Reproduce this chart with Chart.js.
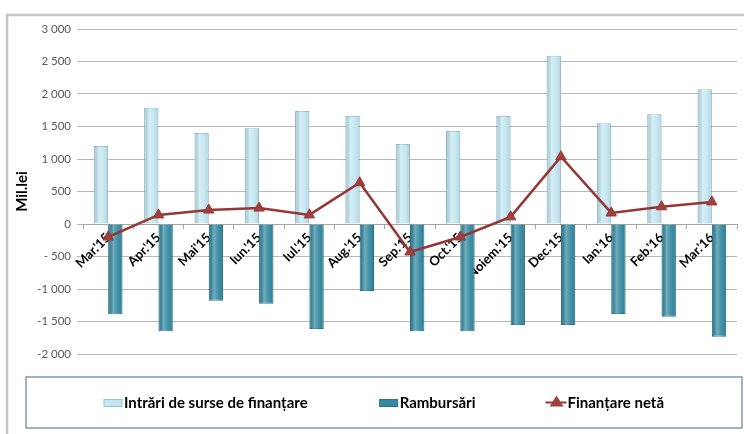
<!DOCTYPE html>
<html>
<head>
<meta charset="utf-8">
<script src="https://cdn.jsdelivr.net/npm/chart.js@4.4.1/dist/chart.umd.min.js"></script>
<style>
    html, body { margin: 0; padding: 0; background: #ffffff; }
    #wrap { position: relative; width: 744px; height: 434px; }
</style>
</head>
<body>
<div id="wrap"><canvas id="finChart"></canvas></div>
<script>
// Datele graficului (mil. lei)
const luni = ["Mar.'15", "Apr.'15", "Mai'15", "Iun.'15", "Iul.'15", "Aug.'15", "Sep.'15",
              "Oct.'15", "Noiem.'15", "Dec.'15", "Ian.'16", "Feb.'16", "Mar.'16"];
const intrari = [1200, 1790, 1400, 1475, 1740, 1660, 1230, 1430, 1660, 2590, 1550, 1690, 2075];
const rambursari = [-1390, -1650, -1180, -1225, -1615, -1030, -1650, -1650, -1555, -1555, -1385, -1425, -1735];
const finantareNeta = [-200, 140, 215, 245, 140, 635, -430, -200, 110, 1035, 170, 265, 340];

const axaMin = -2000;
const axaMax = 3000;
const pas = 500;

const FONT = 'Lato, "Liberation Sans", sans-serif';

// Format Excel: "3 000", "- 500", "-1 000"
function formatTick(value) {
    const abs = Math.abs(value);
    const txt = abs >= 1000 ? Math.floor(abs / 1000) + ' ' + String(abs % 1000).padStart(3, '0') : String(abs);
    if (value < 0) return abs < 1000 ? '- ' + txt : '-' + txt;
    return txt;
}

// Rama exterioara si fundal
const ramaPlugin = {
    id: 'rama',
    beforeDraw(chart) {
        const ctx = chart.ctx;
        ctx.save();
        ctx.fillStyle = '#ffffff';
        ctx.fillRect(0, 0, chart.width, chart.height);
        ctx.strokeStyle = '#c4c4c4';
        ctx.lineWidth = 2.5;
        ctx.beginPath();
        ctx.moveTo(7, chart.height);
        ctx.lineTo(7, 15);
        ctx.lineTo(chart.width, 15);
        ctx.stroke();
        ctx.restore();
    }
};

// Efect de volum pe bare
const volumPlugin = {
    id: 'volum',
    afterDatasetDraw(chart, args) {
        const meta = args.meta;
        if (meta.type !== 'bar') return;
        const ctx = chart.ctx;
        ctx.save();
        meta.data.forEach(el => {
            const left = el.x - el.width / 2;
            const top = Math.min(el.y, el.base);
            const h = Math.abs(el.base - el.y);
            const g = ctx.createLinearGradient(left, 0, left + el.width, 0);
            g.addColorStop(0, 'rgba(0,0,0,0.06)');
            g.addColorStop(0.35, 'rgba(255,255,255,0.30)');
            g.addColorStop(0.65, 'rgba(255,255,255,0.08)');
            g.addColorStop(1, 'rgba(0,0,0,0.08)');
            ctx.fillStyle = g;
            ctx.fillRect(left, top, el.width, h);
        });
        ctx.restore();
    }
};

// Legenda in caseta de jos
const legendaPlugin = {
    id: 'legenda',
    afterDraw(chart) {
        const ctx = chart.ctx;
        const box = { x: 26, y: 377, w: 716, h: 51 };
        ctx.save();
        ctx.strokeStyle = '#6d8aa3';
        ctx.lineWidth = 1.3;
        ctx.strokeRect(box.x, box.y, box.w, box.h);

        ctx.font = 'bold 15px ' + FONT;
        ctx.textBaseline = 'middle';
        ctx.fillStyle = '#000000';
        const items = chart.data.datasets.map(d => d.label);
        const mk = 20, gap = 72;
        const widths = items.map(t => mk + ctx.measureText(t).width);
        const total = widths.reduce((a, b) => a + b, 0) + gap * (items.length - 1);
        let x = box.x + (box.w - total) / 2;
        const y = box.y + box.h / 2;
        chart.data.datasets.forEach((d, i) => {
            if (d.type === 'line') {
                ctx.strokeStyle = d.borderColor;
                ctx.lineWidth = 2;
                ctx.beginPath();
                ctx.moveTo(x - 2, y);
                ctx.lineTo(x + mk - 1, y);
                ctx.stroke();
                ctx.fillStyle = d.pointBackgroundColor;
                ctx.beginPath();
                ctx.moveTo(x + 9, y - 7);
                ctx.lineTo(x + 16, y + 4);
                ctx.lineTo(x + 2, y + 4);
                ctx.closePath();
                ctx.fill();
            } else {
                ctx.fillStyle = d.backgroundColor;
                ctx.fillRect(x, y - 3, 18, 7);
                ctx.strokeStyle = d.borderColor;
                ctx.lineWidth = 1;
                ctx.strokeRect(x, y - 3, 18, 7);
            }
            ctx.fillStyle = '#000000';
            ctx.fillText(items[i], x + mk, y + 1);
            x += widths[i] + gap;
        });
        ctx.restore();
    }
};

new Chart(document.getElementById('finChart'), {
    data: {
        labels: luni,
        datasets: [
            {
                type: 'bar',
                label: 'Intrări de surse de finanțare',
                data: intrari,
                backgroundColor: '#c3e7f2',
                borderColor: '#96c5d3',
                borderWidth: 1,
                barPercentage: 1,
                categoryPercentage: 0.57,
                order: 2
            },
            {
                type: 'bar',
                label: 'Rambursări',
                data: rambursari,
                backgroundColor: '#3389a1',
                borderColor: '#2a7388',
                borderWidth: 1,
                barPercentage: 1,
                categoryPercentage: 0.57,
                order: 2
            },
            {
                type: 'line',
                label: 'Finanțare netă',
                data: finantareNeta,
                borderColor: '#953735',
                borderWidth: 2.5,
                tension: 0,
                pointStyle: 'triangle',
                pointRadius: 6,
                pointBackgroundColor: '#a3403d',
                pointBorderColor: '#953735',
                pointBorderWidth: 1,
                order: 1
            }
        ]
    },
    options: {
        responsive: true,
        maintainAspectRatio: false,
        animation: false,
        layout: {
            padding: { left: 8, top: 29, right: 0, bottom: 80 }
        },
        plugins: {
            legend: { display: false },
            tooltip: { enabled: false }
        },
        scales: {
            x: {
                position: { y: 0 },
                offset: true,
                grid: {
                    display: true,
                    drawOnChartArea: false,
                    tickLength: 4,
                    color: '#a6a6a6'
                },
                border: { display: true, color: '#a6a6a6' },
                ticks: {
                    minRotation: 45,
                    maxRotation: 45,
                    padding: 2,
                    color: '#000000',
                    font: { family: FONT, size: 13, weight: 'bold' }
                }
            },
            y: {
                min: axaMin,
                max: axaMax,
                afterFit: function(scale) {
                    scale.width = 75;
                },
                grid: {
                    color: '#b8b8b8',
                    tickLength: 6
                },
                border: { display: false },
                ticks: {
                    stepSize: pas,
                    padding: 6,
                    color: '#595959',
                    font: { family: FONT, size: 11.5 },
                    callback: function(value) {
                        return formatTick(value);
                    }
                },
                title: {
                    display: true,
                    text: 'Mil.lei',
                    color: '#000000',
                    padding: { top: 5, bottom: 0 },
                    font: { family: FONT, size: 15, weight: 'bold' }
                }
            }
        }
    },
    plugins: [ramaPlugin, volumPlugin, legendaPlugin]
});
</script>
</body>
</html>
